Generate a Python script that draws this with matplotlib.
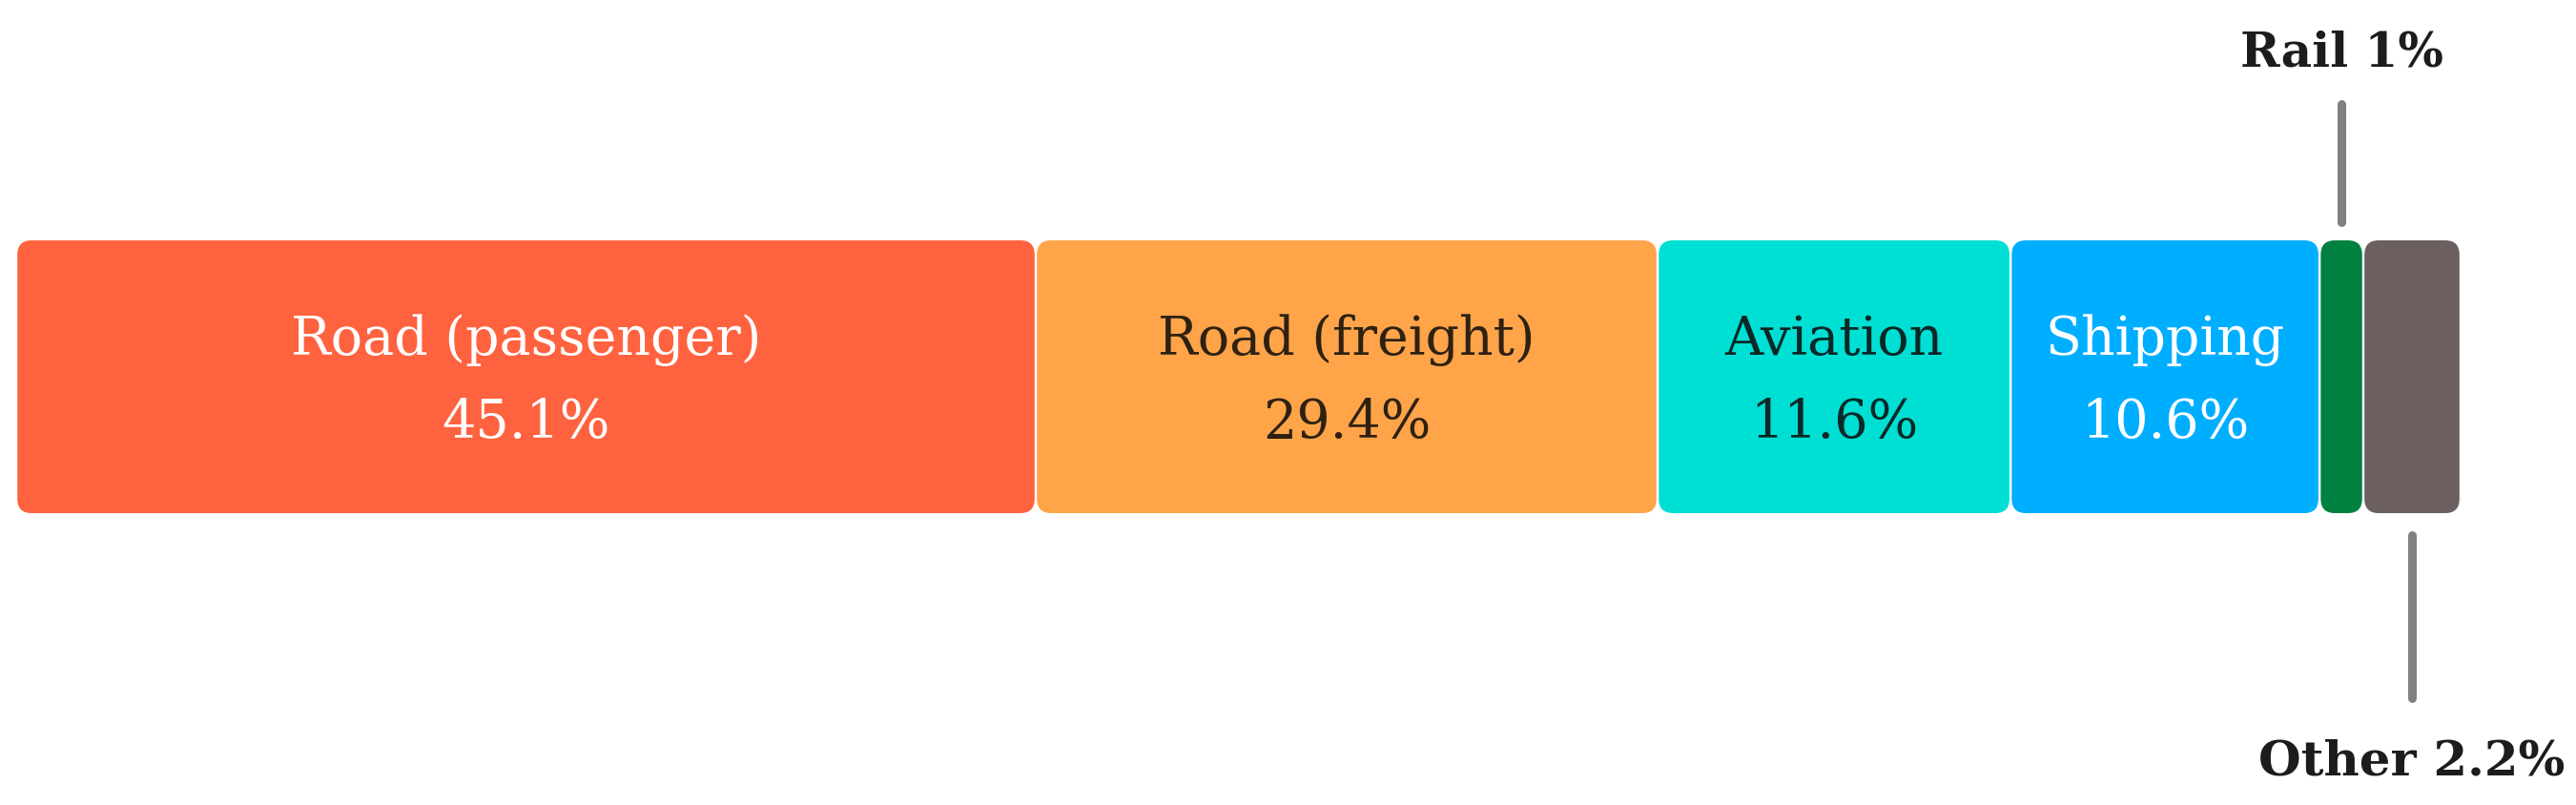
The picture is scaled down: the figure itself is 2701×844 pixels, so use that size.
import matplotlib
matplotlib.use("Agg")
import matplotlib.pyplot as plt
from matplotlib.patches import FancyBboxPatch

# Data
categories = ['Road (passenger)', 'Road (freight)', 'Aviation', 'Shipping', 'Rail', 'Other']
shares = [45.1, 29.4, 11.6, 10.6, 1.0, 2.2]
# segment lengths as drawn in the picture (% of bar length, not proportional to shares)
drawn_length = [41.71, 25.44, 14.44, 12.64, 1.79, 3.98]
colors = ['#FF623F', '#FFA449', '#00DFD4', '#00AEFF', '#008140', '#6B5F5F']
text_colors = ['white', '#2E2112', '#0A2826', 'white', None, None]

W, H = 2701, 845
fig = plt.figure(figsize=(W / 100, H / 100), dpi=100)
# axes covers exactly the bar
ax = fig.add_axes([17 / W, 306 / H, 2563 / W, 286 / H])
ax.set_xlim(0, 100)
ax.set_ylim(0, 1)
ax.axis('off')

px_x = 2563 / 100   # pixels per x unit
px_y = 286          # pixels per y unit
radius = 15 / px_x
gap = 1.2 / px_x

serif = ['DejaVu Serif']

left = 0
for cat, val, length, col, tcol in zip(categories, shares, drawn_length, colors, text_colors):
    box = FancyBboxPatch((left + gap, 0), length - 2 * gap, 1,
                         boxstyle=f"round,pad=0,rounding_size={radius}",
                         mutation_aspect=px_x / px_y,
                         facecolor=col, edgecolor='none')
    ax.add_patch(box)
    mid = left + length / 2
    if tcol is not None:
        ax.text(mid, 0.485, f"{cat}\n{val:g}%", ha='center', va='center',
                color=tcol, fontsize=40, family=serif, linespacing=1.75)
    left += length

# callouts for the thin segments
starts = [sum(drawn_length[:i]) for i in range(len(drawn_length))]
rail_x = starts[4] + drawn_length[4] / 2
other_x = starts[5] + drawn_length[5] / 2

ax.plot([rail_x, rail_x], [1 + 19 / px_y, 1 + 143 / px_y], color='#808080',
        lw=6.5, solid_capstyle='round', clip_on=False)
ax.text(rail_x, 1 + 183 / px_y, f"{categories[4]} {shares[4]:g}%", ha='center',
        va='baseline', fontsize=36, fontweight='bold', family=serif,
        color='#1C1C1C', clip_on=False)

ax.plot([other_x, other_x], [-23 / px_y, -194 / px_y], color='#808080',
        lw=6.5, solid_capstyle='round', clip_on=False)
ax.text(other_x, -274 / px_y, f"{categories[5]} {shares[5]:g}%", ha='center',
        va='baseline', fontsize=37, fontweight='bold', family=serif,
        color='#1C1C1C', clip_on=False)

fig.savefig('out.png', dpi=100, facecolor='white')
